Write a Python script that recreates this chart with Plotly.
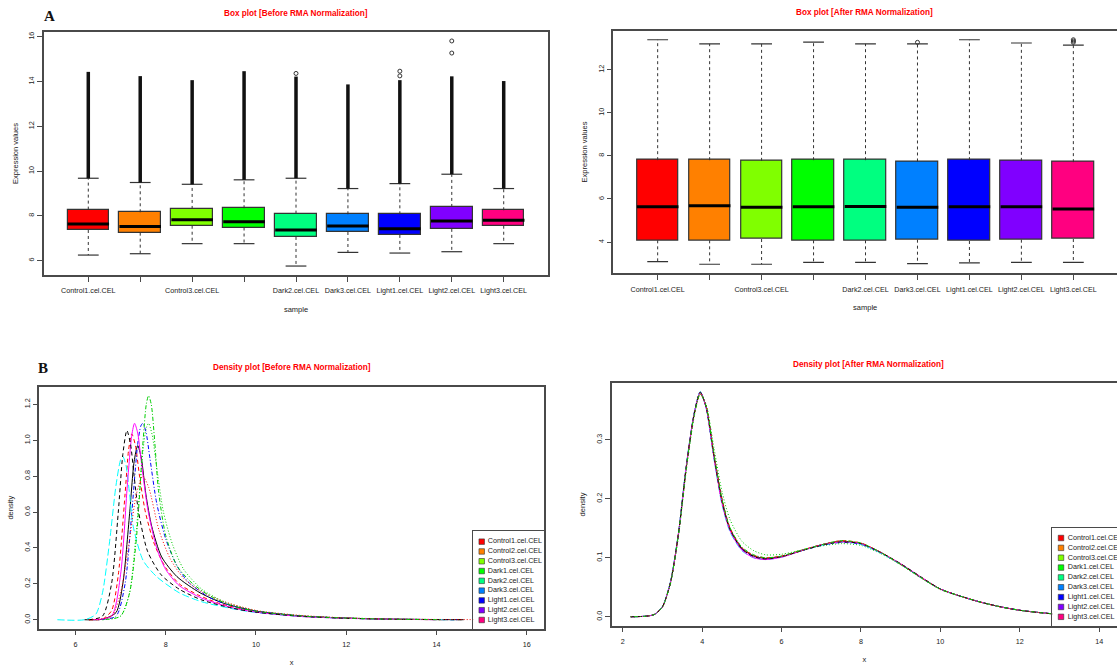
import plotly.graph_objects as go

W, H = 1117, 668

# ---------------- data ----------------
samples = ["Control1.cel.CEL", "Control2.cel.CEL", "Control3.cel.CEL", "Dark1.cel.CEL",
           "Dark2.cel.CEL", "Dark3.cel.CEL", "Light1.cel.CEL", "Light2.cel.CEL", "Light3.cel.CEL"]
# R skipped overlapping labels
sample_tick_text = ["Control1.cel.CEL", "", "Control3.cel.CEL", "", "Dark2.cel.CEL",
                    "Dark3.cel.CEL", "Light1.cel.CEL", "Light2.cel.CEL", "Light3.cel.CEL"]

# Box plot before RMA
pre_lower = [6.25, 6.31, 6.76, 6.76, 5.76, 6.37, 6.34, 6.40, 6.76]
pre_q1 = [7.37, 7.25, 7.56, 7.48, 7.06, 7.28, 7.15, 7.42, 7.56]
pre_median = [7.64, 7.52, 7.83, 7.74, 7.37, 7.55, 7.43, 7.77, 7.80]
pre_q3 = [8.28, 8.16, 8.31, 8.34, 8.10, 8.07, 8.07, 8.40, 8.25]
pre_upper = [9.68, 9.49, 9.41, 9.61, 9.68, 9.22, 9.44, 9.86, 9.22]
pre_outlier_top = [14.43, 14.24, 14.06, 14.46, 14.22, 13.87, 14.06, 14.23, 14.02]
pre_outlier_sample = ["Dark2.cel.CEL", "Light1.cel.CEL", "Light1.cel.CEL", "Light2.cel.CEL", "Light2.cel.CEL"]
pre_outlier_value = [14.36, 14.25, 14.46, 15.27, 15.81]

# Box plot after RMA
post_lower = [3.09, 2.97, 2.97, 3.06, 3.06, 3.00, 3.03, 3.06, 3.06]
post_q1 = [4.08, 4.08, 4.14, 4.08, 4.08, 4.11, 4.05, 4.11, 4.14]
post_median = [5.64, 5.68, 5.61, 5.64, 5.65, 5.61, 5.64, 5.64, 5.54]
post_q3 = [7.80, 7.80, 7.77, 7.80, 7.80, 7.74, 7.80, 7.77, 7.71]
post_upper = [13.39, 13.20, 13.20, 13.28, 13.20, 13.20, 13.39, 13.24, 13.14]
post_outlier_sample = ["Dark3.cel.CEL", "Light3.cel.CEL", "Light3.cel.CEL", "Light3.cel.CEL"]
post_outlier_value = [13.27, 13.27, 13.33, 13.39]

# Density before RMA
pre_control1_x = [6.2, 6.6, 6.9, 7.05, 7.2, 7.3, 7.38, 7.46, 7.56, 7.69, 7.91, 8.25, 8.76, 9.28, 10.0, 11.0, 12.0, 13.0, 14.0, 14.6]
pre_control1_y = [0.0, 0.003, 0.04, 0.2, 0.59, 0.88, 0.97, 0.9, 0.7, 0.52, 0.35, 0.24, 0.15, 0.092, 0.048, 0.02, 0.009, 0.003, 0.001, 0.0]
pre_control2_x = [6.3, 6.6, 6.8, 6.95, 7.1, 7.18, 7.25, 7.33, 7.42, 7.55, 7.75, 8.0, 8.3, 8.7, 9.2, 10.0, 11.0, 12.0, 13.0, 14.2]
pre_control2_y = [0.0, 0.004, 0.05, 0.25, 0.7, 0.95, 1.035, 0.97, 0.8, 0.6, 0.42, 0.29, 0.2, 0.14, 0.09, 0.045, 0.02, 0.009, 0.003, 0.0]
pre_control3_x = [6.6, 7.0, 7.2, 7.35, 7.5, 7.57, 7.62, 7.7, 7.8, 7.95, 8.15, 8.4, 8.8, 9.3, 10.0, 11.0, 12.0, 13.0, 14.2]
pre_control3_y = [0.0, 0.02, 0.15, 0.5, 0.95, 1.07, 1.094, 1.03, 0.85, 0.6, 0.42, 0.28, 0.17, 0.1, 0.05, 0.022, 0.01, 0.004, 0.0]
pre_dark1_x = [6.5, 6.9, 7.1, 7.25, 7.38, 7.45, 7.49, 7.56, 7.65, 7.8, 8.0, 8.25, 8.5, 9.0, 9.5, 10.0, 11.0, 12.0, 13.0, 14.5]
pre_dark1_y = [0.0, 0.02, 0.2, 0.6, 0.98, 1.08, 1.094, 1.05, 0.9, 0.65, 0.45, 0.3, 0.21, 0.12, 0.075, 0.048, 0.021, 0.009, 0.003, 0.0]
pre_dark2_x = [5.6, 6.2, 6.45, 6.6, 6.75, 6.9, 7.0, 7.05, 7.12, 7.2, 7.28, 7.5, 7.8, 8.3, 8.8, 9.5, 10.0, 11.0, 12.0, 13.0, 14.4]
pre_dark2_y = [0.0, 0.0, 0.03, 0.15, 0.42, 0.75, 0.89, 0.91, 0.86, 0.7, 0.52, 0.33, 0.24, 0.15, 0.1, 0.06, 0.04, 0.018, 0.008, 0.003, 0.0]
pre_dark3_x = [6.4, 6.8, 7.0, 7.15, 7.25, 7.31, 7.38, 7.45, 7.6, 7.8, 8.0, 8.3, 8.8, 9.5, 10.0, 11.0, 12.0, 13.0, 14.0]
pre_dark3_y = [0.0, 0.02, 0.25, 0.75, 1.03, 1.094, 1.04, 0.9, 0.62, 0.4, 0.28, 0.19, 0.12, 0.065, 0.042, 0.018, 0.008, 0.003, 0.0]
pre_light1_x = [6.3, 6.6, 6.8, 6.95, 7.05, 7.14, 7.22, 7.3, 7.4, 7.6, 7.9, 8.3, 8.8, 9.5, 10.0, 11.0, 12.0, 13.0, 14.6]
pre_light1_y = [0.0, 0.02, 0.2, 0.6, 0.92, 1.054, 0.98, 0.8, 0.6, 0.38, 0.25, 0.17, 0.11, 0.063, 0.042, 0.019, 0.008, 0.003, 0.0]
pre_light2_x = [6.3, 6.8, 7.0, 7.2, 7.35, 7.49, 7.62, 7.85, 8.1, 8.4, 8.8, 9.3, 10.0, 11.0, 12.0, 13.0, 14.0, 15.0, 15.9]
pre_light2_y = [0.0, 0.02, 0.15, 0.45, 0.7, 0.80, 0.74, 0.5, 0.34, 0.23, 0.155, 0.1, 0.052, 0.024, 0.01, 0.004, 0.0015, 0.0005, 0.0]
pre_light3_x = [6.6, 7.0, 7.2, 7.35, 7.5, 7.57, 7.62, 7.68, 7.76, 7.84, 8.0, 8.25, 8.6, 9.0, 9.5, 10.0, 11.0, 12.0, 13.0, 14.1]
pre_light3_y = [0.0, 0.02, 0.15, 0.45, 1.0, 1.2, 1.248, 1.2, 0.98, 0.72, 0.47, 0.3, 0.2, 0.13, 0.075, 0.048, 0.021, 0.009, 0.003, 0.0]

# Density after RMA (read at these x values)
post_x = [2.2, 2.6, 2.8, 3.0, 3.2, 3.4, 3.6, 3.8, 3.95, 4.1, 4.3, 4.5, 4.7, 5.0, 5.3, 5.6, 6.0, 6.5,
          7.0, 7.5, 8.0, 8.5, 9.0, 9.5, 10.0, 10.5, 11.0, 11.5, 12.0, 12.5, 13.0, 13.5, 14.0, 14.2]
post_control1_y = [0.0, 0.001, 0.004, 0.017, 0.058, 0.14, 0.255, 0.345, 0.381, 0.356, 0.272, 0.197, 0.149, 0.116, 0.103, 0.099, 0.102, 0.112,
                   0.122, 0.128, 0.124, 0.109, 0.089, 0.067, 0.047, 0.035, 0.025, 0.017, 0.011, 0.007, 0.004, 0.0025, 0.001, 0.0005]
post_control2_y = [0.0, 0.001, 0.004, 0.017, 0.058, 0.14, 0.252, 0.343, 0.378, 0.357, 0.275, 0.2, 0.151, 0.117, 0.104, 0.1, 0.103, 0.113,
                   0.122, 0.129, 0.125, 0.109, 0.089, 0.067, 0.047, 0.035, 0.025, 0.017, 0.011, 0.007, 0.004, 0.0025, 0.001, 0.0005]
post_control3_y = [0.0, 0.001, 0.004, 0.016, 0.055, 0.135, 0.248, 0.34, 0.377, 0.36, 0.285, 0.212, 0.165, 0.128, 0.112, 0.105, 0.106, 0.113,
                   0.12, 0.124, 0.121, 0.107, 0.088, 0.066, 0.046, 0.035, 0.025, 0.017, 0.011, 0.007, 0.004, 0.0025, 0.001, 0.0005]
post_dark1_y = [0.0, 0.001, 0.004, 0.017, 0.058, 0.14, 0.255, 0.345, 0.381, 0.355, 0.27, 0.195, 0.148, 0.115, 0.102, 0.098, 0.102, 0.112,
                0.121, 0.126, 0.123, 0.108, 0.089, 0.067, 0.047, 0.035, 0.025, 0.017, 0.011, 0.007, 0.004, 0.0025, 0.001, 0.0005]
post_dark2_y = [0.0, 0.001, 0.004, 0.018, 0.06, 0.142, 0.258, 0.347, 0.382, 0.353, 0.266, 0.19, 0.144, 0.112, 0.1, 0.097, 0.101, 0.112,
                0.121, 0.127, 0.123, 0.108, 0.089, 0.067, 0.047, 0.035, 0.025, 0.017, 0.011, 0.007, 0.004, 0.0025, 0.001, 0.0005]
post_dark3_y = [0.0, 0.001, 0.004, 0.017, 0.058, 0.14, 0.256, 0.346, 0.381, 0.354, 0.268, 0.192, 0.146, 0.113, 0.1, 0.097, 0.101, 0.112,
                0.122, 0.127, 0.124, 0.109, 0.09, 0.068, 0.047, 0.035, 0.025, 0.017, 0.011, 0.007, 0.004, 0.0025, 0.001, 0.0005]
post_light1_y = [0.0, 0.001, 0.004, 0.017, 0.058, 0.14, 0.255, 0.345, 0.381, 0.355, 0.27, 0.195, 0.148, 0.115, 0.102, 0.098, 0.102, 0.112,
                 0.121, 0.127, 0.124, 0.109, 0.09, 0.068, 0.047, 0.035, 0.025, 0.017, 0.011, 0.007, 0.004, 0.0025, 0.001, 0.0005]
post_light2_y = [0.0, 0.001, 0.004, 0.017, 0.058, 0.14, 0.254, 0.344, 0.38, 0.356, 0.271, 0.196, 0.149, 0.116, 0.103, 0.099, 0.102, 0.112,
                 0.122, 0.128, 0.125, 0.109, 0.089, 0.067, 0.047, 0.035, 0.025, 0.017, 0.011, 0.007, 0.004, 0.0025, 0.001, 0.0005]
post_light3_y = [0.0, 0.001, 0.004, 0.017, 0.057, 0.139, 0.253, 0.343, 0.379, 0.357, 0.274, 0.199, 0.151, 0.118, 0.105, 0.1, 0.103, 0.113,
                 0.122, 0.129, 0.125, 0.109, 0.089, 0.067, 0.047, 0.035, 0.025, 0.017, 0.011, 0.007, 0.004, 0.0025, 0.001, 0.0005]

# ---------------- styles ----------------
box_colors = ["#FF0000", "#FF8000", "#80FF00", "#00FF00", "#00FF80", "#0080FF", "#0000FF", "#8000FF", "#FF0080"]
line_colors = ["#000000", "#FF0000", "#00CD00", "#0000FF", "#00FFFF", "#FF00FF", "#000000", "#FF0000", "#00CD00"]
line_dashes = ["solid", "4px,3px", "1px,2px", "1px,2px,4px,2px", "7px,3px", "solid", "4px,3px", "1px,2px", "1px,2px,4px,2px"]

SANS = "Liberation Sans, Arial, sans-serif"
SERIF = "Liberation Serif, Times New Roman, serif"
TXT = "#222222"
FRAME = "#4a4a4a"

positions = list(range(1, len(samples) + 1))

fig = go.Figure()


def seg(xs_pairs, ys_pairs):
    xs, ys = [], []
    for (a, b), (c, d) in zip(xs_pairs, ys_pairs):
        xs += [a, b, None]
        ys += [c, d, None]
    return xs, ys


def add_boxplot(xa, ya, lower, q1, med, q3, upper, out_top, out_samples, out_values):
    # whiskers (dashed)
    wx, wy = seg([(p, p) for p in positions] + [(p, p) for p in positions],
                 [(b, t) for b, t in zip(q3, upper)] + [(b, t) for b, t in zip(q1, lower)])
    fig.add_trace(go.Scatter(x=wx, y=wy, mode="lines", xaxis=xa, yaxis=ya,
                             line=dict(color="#333333", width=1, dash="3px,3px"), hoverinfo="skip"))
    # staples
    sx, sy = seg([(p - 0.2, p + 0.2) for p in positions] * 2,
                 [(v, v) for v in upper] + [(v, v) for v in lower])
    fig.add_trace(go.Scatter(x=sx, y=sy, mode="lines", xaxis=xa, yaxis=ya,
                             line=dict(color="#333333", width=1.2), hoverinfo="skip"))
    # dense outlier columns
    if out_top is not None:
        ox, oy = seg([(p, p) for p in positions], [(u, t) for u, t in zip(upper, out_top)])
        fig.add_trace(go.Scatter(x=ox, y=oy, mode="lines", xaxis=xa, yaxis=ya,
                                 line=dict(color="#111111", width=3.5), hoverinfo="skip"))
    # separate outliers
    fig.add_trace(go.Scatter(x=[samples.index(s) + 1 for s in out_samples], y=out_values,
                             mode="markers", xaxis=xa, yaxis=ya,
                             marker=dict(symbol="circle-open", size=4, color="#333333", line=dict(width=1)),
                             hoverinfo="skip"))
    # boxes
    fig.add_trace(go.Bar(x=positions, base=q1, y=[b - a for a, b in zip(q1, q3)], width=0.8,
                         xaxis=xa, yaxis=ya,
                         marker=dict(color=box_colors, line=dict(color="#333333", width=1.2)),
                         hoverinfo="skip"))
    # medians
    mx, my = seg([(p - 0.4, p + 0.4) for p in positions], [(m, m) for m in med])
    fig.add_trace(go.Scatter(x=mx, y=my, mode="lines", xaxis=xa, yaxis=ya,
                             line=dict(color="#000000", width=3), hoverinfo="skip"))


add_boxplot("x", "y", pre_lower, pre_q1, pre_median, pre_q3, pre_upper, pre_outlier_top,
            pre_outlier_sample, pre_outlier_value)
add_boxplot("x2", "y2", post_lower, post_q1, post_median, post_q3, post_upper, None,
            post_outlier_sample, post_outlier_value)

pre_curves = [(pre_control1_x, pre_control1_y), (pre_control2_x, pre_control2_y), (pre_control3_x, pre_control3_y),
              (pre_dark1_x, pre_dark1_y), (pre_dark2_x, pre_dark2_y), (pre_dark3_x, pre_dark3_y),
              (pre_light1_x, pre_light1_y), (pre_light2_x, pre_light2_y), (pre_light3_x, pre_light3_y)]
post_curves = [post_control1_y, post_control2_y, post_control3_y, post_dark1_y, post_dark2_y,
               post_dark3_y, post_light1_y, post_light2_y, post_light3_y]

for i, (cx, cy) in enumerate(pre_curves):
    fig.add_trace(go.Scatter(x=cx, y=cy, mode="lines", xaxis="x3", yaxis="y3", name=samples[i],
                             line=dict(color=line_colors[i], width=1, dash=line_dashes[i],
                                       shape="spline", smoothing=0.7), hoverinfo="skip"))
for i, cy in enumerate(post_curves):
    fig.add_trace(go.Scatter(x=post_x, y=cy, mode="lines", xaxis="x4", yaxis="y4", name=samples[i],
                             line=dict(color=line_colors[i], width=1, dash=line_dashes[i],
                                       shape="spline", smoothing=0.7), hoverinfo="skip"))

# legends (drawn as small inset panels so that they cover the curves)
rows = list(range(len(samples)))
for xa, ya, mx, tx in (("x5", "y5", 0.119, 0.205), ("x6", "y6", 0.123, 0.218)):
    fig.add_trace(go.Scatter(x=[mx] * len(samples), y=rows, mode="markers", xaxis=xa, yaxis=ya,
                             marker=dict(symbol="square", size=5.5, color=box_colors,
                                         line=dict(color="#333333", width=0.6)),
                             cliponaxis=False, hoverinfo="skip"))
    fig.add_trace(go.Scatter(x=[tx] * len(samples), y=rows, mode="text", text=samples,
                             textposition="middle right", xaxis=xa, yaxis=ya,
                             textfont=dict(family=SANS, size=7.2, color=TXT),
                             cliponaxis=False, hoverinfo="skip"))


def px_x(v):
    return v / W


def px_y(v):
    return 1 - v / H


tickfont = dict(family=SANS, size=7.2, color=TXT)
titlefont = dict(family=SANS, size=7.5, color=TXT)


def frame(mirror=True):
    return dict(showline=True, linecolor=FRAME, linewidth=1.5, mirror=mirror, showgrid=False,
                zeroline=False, ticks="outside", ticklen=5, tickcolor=FRAME, tickwidth=1,
                tickfont=tickfont, automargin=False)


xtitle = dict(font=titlefont, standoff=12)
ytitle = dict(font=titlefont, standoff=8)

layout = dict(
    width=W, height=H, autosize=False, showlegend=False,
    margin=dict(l=0, r=0, t=0, b=0, pad=0),
    paper_bgcolor="white", plot_bgcolor="white",
    bargap=0,
    xaxis=dict(frame(True), domain=[px_x(44), px_x(548)], range=[0.147, 9.853],
               tickmode="array", tickvals=positions, ticktext=sample_tick_text, tickangle=0,
               ticklabelstandoff=3, title=dict(xtitle, text="sample"), anchor="y"),
    yaxis=dict(frame(True), domain=[px_y(275), px_y(32)], range=[5.36, 16.21],
               tickvals=[6, 8, 10, 12, 14, 16], tickangle=-90,
               title=dict(ytitle, text="Expression values"), anchor="x"),
    xaxis2=dict(frame(True), domain=[px_x(613.3), 1.0], range=[0.146, 9.84],
                tickmode="array", tickvals=positions, ticktext=sample_tick_text, tickangle=0,
                ticklabelstandoff=3, title=dict(xtitle, text="sample"), anchor="y2"),
    yaxis2=dict(frame(False), domain=[px_y(273.3), px_y(30.7)], range=[2.55, 13.81],
                tickvals=[4, 6, 8, 10, 12], tickangle=-90,
                title=dict(ytitle, text="Expression values"), anchor="x2"),
    xaxis3=dict(frame(True), domain=[px_x(39.3), px_x(544)], range=[5.2, 16.38],
                tickvals=[6, 8, 10, 12, 14, 16], tickangle=0,
                ticklabelstandoff=3, title=dict(xtitle, text="x"), anchor="y3"),
    yaxis3=dict(frame(True), domain=[px_y(628.7), px_y(386.7)], range=[-0.05, 1.298],
                tickvals=[0, 0.2, 0.4, 0.6, 0.8, 1.0, 1.2], tickformat=".1f", tickangle=-90,
                title=dict(ytitle, text="density"), anchor="x3"),
    xaxis4=dict(frame(True), domain=[px_x(611.7), 1.0], range=[1.72, 14.45],
                tickvals=[2, 4, 6, 8, 10, 12, 14], tickangle=0,
                ticklabelstandoff=3, title=dict(xtitle, text="x"), anchor="y4"),
    yaxis4=dict(frame(False), domain=[px_y(625.7), px_y(383.3)], range=[-0.0152, 0.396],
                tickvals=[0, 0.1, 0.2, 0.3], tickformat=".1f", tickangle=-90,
                title=dict(ytitle, text="density"), anchor="x4"),
    xaxis5=dict(domain=[px_x(473.3), px_x(544)], range=[0, 1], showline=True, mirror=True,
                linecolor=FRAME, linewidth=1.2, showticklabels=False, ticks="", showgrid=False,
                zeroline=False, anchor="y5", automargin=False),
    yaxis5=dict(domain=[px_y(628.7), px_y(531)], range=[8.89, -1.09], showline=True, mirror=True,
                linecolor=FRAME, linewidth=1.2, showticklabels=False, ticks="", showgrid=False,
                zeroline=False, anchor="x5", automargin=False),
    xaxis6=dict(domain=[px_x(1052.3), 1.0], range=[0, 0.915], showline=True, mirror=True,
                linecolor=FRAME, linewidth=1.2, showticklabels=False, ticks="", showgrid=False,
                zeroline=False, anchor="y6", automargin=False),
    yaxis6=dict(domain=[px_y(625.7), px_y(527.7)], range=[8.90, -1.046], showline=True, mirror=False,
                linecolor=FRAME, linewidth=1.2, showticklabels=False, ticks="", showgrid=False,
                zeroline=False, anchor="x6", automargin=False),
)

title_font = dict(family=SANS, size=8.2, color="#FF0000", weight="bold")
panel_font = dict(family=SERIF, size=15, color="#111111", weight="bold")


def note(text, x, y, font):
    return dict(text=text, x=px_x(x), y=px_y(y), xref="paper", yref="paper", showarrow=False,
                xanchor="center", yanchor="middle", font=font)


layout["annotations"] = [
    note("A", 49, 16, panel_font),
    note("B", 43, 368, panel_font),
    note("Box plot [Before RMA Normalization]", 296, 13, title_font),
    note("Box plot [After RMA Normalization]", 865, 12, title_font),
    note("Density plot [Before RMA Normalization]", 292, 367, title_font),
    note("Density plot [After RMA Normalization]", 868, 364, title_font),
]

fig.update_layout(**layout)
fig.write_html("out.html", config={"displayModeBar": False},
               post_script="document.body.style.margin='0px';document.body.style.padding='0px';")
